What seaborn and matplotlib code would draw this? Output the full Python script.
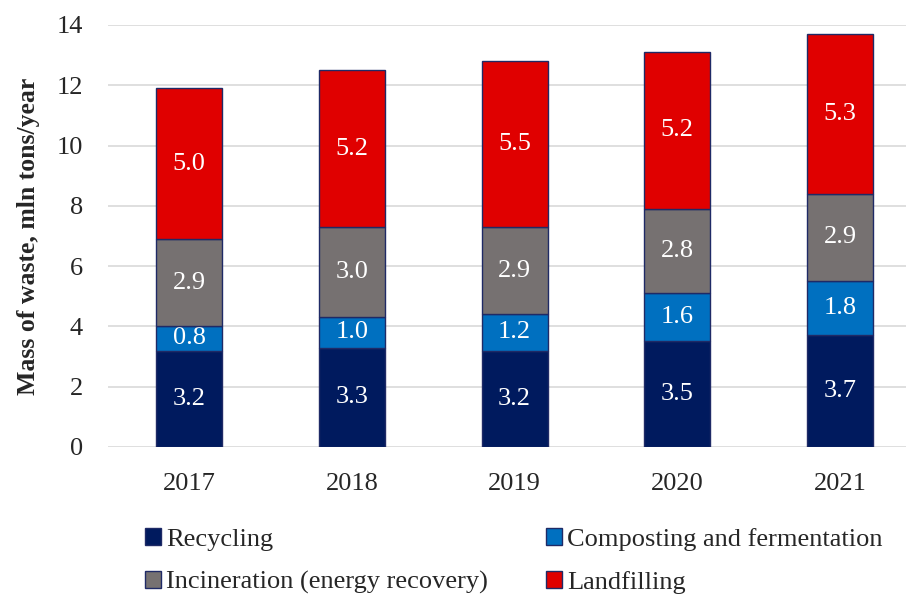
import matplotlib
matplotlib.use("Agg")
import matplotlib.pyplot as plt
import seaborn as sns
import pandas as pd
import numpy as np

# Waste treatment by year, mln tons/year
years = ["2017", "2018", "2019", "2020", "2021"]
recycling = [3.2, 3.3, 3.2, 3.5, 3.7]
composting = [0.8, 1.0, 1.2, 1.6, 1.8]
incineration = [2.9, 3.0, 2.9, 2.8, 2.9]
landfilling = [5.0, 5.2, 5.5, 5.2, 5.3]

series_names = ["Recycling", "Composting and fermentation",
                "Incineration (energy recovery)", "Landfilling"]
series_values = [recycling, composting, incineration, landfilling]
series_colors = ["#001a5e", "#0070c0", "#767171", "#e00000"]

sns.set_theme(style="white")
plt.rcParams["font.family"] = ["Liberation Serif", "DejaVu Serif"]

fig = plt.figure(figsize=(9.06, 5.94), dpi=100)
ax = fig.add_axes([0.119, 0.2475, 0.881, 0.7105])

fs = 19
bottom = np.zeros(len(years))
containers = []
for name, vals, col in zip(series_names, series_values, series_colors):
    df = pd.DataFrame({"year": years, "value": vals})
    sns.barplot(data=df, x="year", y="value", order=years, color=col,
                saturation=1, errorbar=None, width=0.405, bottom=bottom.copy(),
                edgecolor="#1f2a66", linewidth=1.0, ax=ax, zorder=3)
    cont = ax.containers[-1]
    containers.append(cont)
    ax.bar_label(cont, labels=[f"{v:.1f}" for v in vals], label_type="center",
                 color="white", fontsize=fs)
    bottom = bottom + np.array(vals)

ax.set_ylim(0, 14)
ax.set_yticks(range(0, 15, 2))
ax.set_xlim(-0.5, 4.405)
ax.grid(axis="y", color="#d9d9d9", linewidth=1.2, zorder=0)
ax.grid(axis="x", visible=False)
for s in ax.spines.values():
    s.set_visible(False)
ax.tick_params(axis="both", length=0, labelsize=fs)
ax.tick_params(axis="y", pad=18)
ax.tick_params(axis="x", pad=19)
ax.set_xlabel("")
ax.set_ylabel("Mass of waste, mln tons/year", fontsize=18.5, fontweight="bold",
              labelpad=12)

# legend filled column-wise: Recycling / Incineration, then Composting / Landfilling
order = [0, 2, 1, 3]
handles = [containers[i].patches[0] for i in order]
labels = [series_names[i] for i in order]
fig.legend(handles, labels, ncol=2, loc="lower left",
           bbox_to_anchor=(0.16, 0.0), frameon=False, fontsize=fs,
           handlelength=0.6, handleheight=0.6, handletextpad=0.2,
           columnspacing=2.2, labelspacing=0.75, borderaxespad=0, borderpad=0.0)

fig.savefig("out.png", dpi=100)
